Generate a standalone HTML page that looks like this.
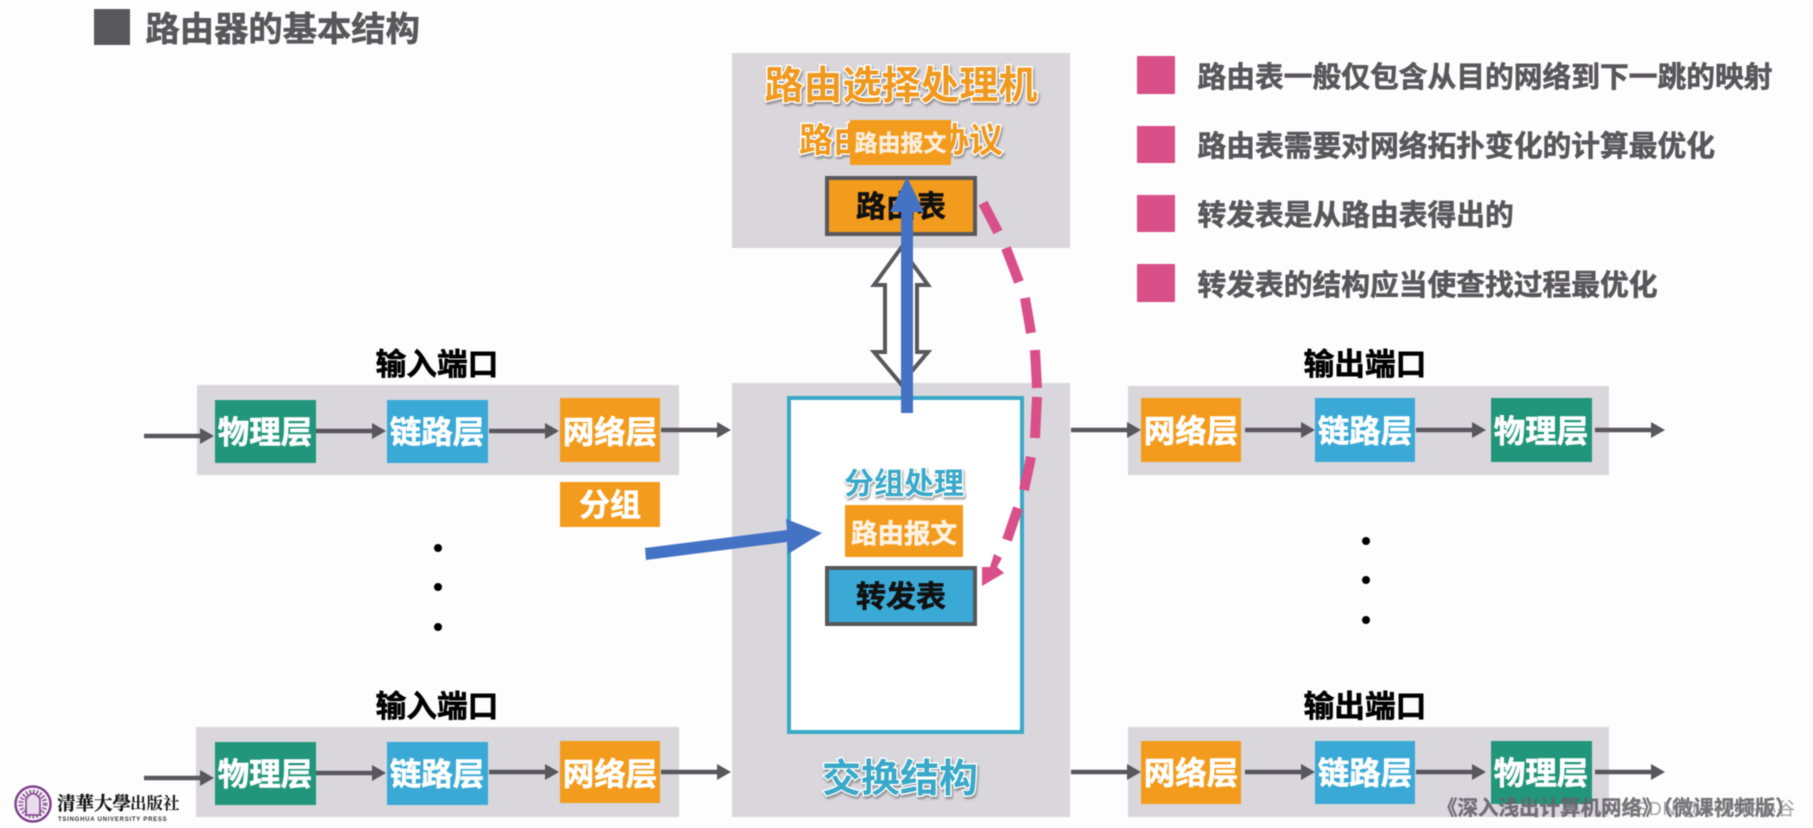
<!DOCTYPE html>
<html lang="zh">
<head>
<meta charset="utf-8">
<title>路由器的基本结构</title>
<style>
html,body{margin:0;padding:0;background:#fefdfe;width:1813px;height:828px;overflow:hidden}
svg{display:block;filter:blur(.6px)}
text{font-family:"Liberation Sans","Noto Sans CJK SC",sans-serif;font-weight:700;text-anchor:middle}
.w{fill:#fff;stroke:#fff;stroke-width:.6px;font-size:31.5px}
.p{fill:#000;stroke:#000;stroke-width:.6px;font-size:30.7px}
.b{fill:#58575c;stroke:#58575c;stroke-width:.6px;font-size:28.75px;text-anchor:start}
.ol{paint-order:stroke;stroke:#fff;stroke-width:3px;stroke-linejoin:round;filter:drop-shadow(1px 2px 1px rgba(70,70,70,.55))}
.a{stroke:#58575c;stroke-width:4.5;fill:none}
.h{fill:#58575c}
.panel{fill:#d9d7dc}
.g{fill:#22967a}.c{fill:#3aa9d6}.o{fill:#f39b1c}
</style>
</head>
<body>
<svg width="1813" height="828" viewBox="0 0 1813 828" xmlns="http://www.w3.org/2000/svg">
<defs>
<g id="ar"><line class="a" x1="0" y1="0" x2="58" y2="0"/><polygon class="h" points="56,-8 70,0 56,8"/></g>
</defs>

<!-- title -->
<rect x="94" y="9" width="36" height="36" fill="#58575c"/>
<text x="145.5" y="41" style="font-size:34.3px;text-anchor:start;fill:#58575c;stroke:#58575c;stroke-width:.6px">路由器的基本结构</text>

<!-- panels -->
<rect class="panel" x="197" y="385" width="482" height="90"/>
<rect class="panel" x="196" y="727" width="483" height="90"/>
<rect class="panel" x="1128" y="386" width="481" height="89"/>
<rect class="panel" x="1128" y="727" width="481" height="90"/>
<rect class="panel" x="732" y="53" width="338" height="195"/>
<rect class="panel" x="732" y="383" width="338" height="434"/>

<!-- port labels -->
<text class="p" x="437" y="375">输入端口</text>
<text class="p" x="437" y="717">输入端口</text>
<text class="p" x="1365" y="375">输出端口</text>
<text class="p" x="1365" y="717">输出端口</text>

<!-- input port 1 -->
<rect class="g" x="215" y="400" width="101" height="63"/>
<rect class="c" x="387" y="400" width="101" height="63"/>
<rect class="o" x="560" y="398" width="100" height="64"/>
<text class="w" x="265" y="443">物理层</text>
<text class="w" x="437" y="443">链路层</text>
<text class="w" x="610" y="443">网络层</text>
<use href="#ar" x="144" y="436"/>
<use href="#ar" x="316" y="431"/>
<use href="#ar" x="489" y="431"/>
<use href="#ar" x="661" y="430"/>

<!-- 分组 -->
<rect class="o" x="560" y="482" width="100" height="45"/>
<text class="w" x="610" y="516" style="font-size:31px">分组</text>

<!-- input port 2 -->
<rect class="g" x="215" y="742" width="101" height="63"/>
<rect class="c" x="387" y="742" width="101" height="63"/>
<rect class="o" x="560" y="741" width="100" height="62"/>
<text class="w" x="265" y="785">物理层</text>
<text class="w" x="437" y="785">链路层</text>
<text class="w" x="610" y="785">网络层</text>
<use href="#ar" x="144" y="778"/>
<use href="#ar" x="316" y="773"/>
<use href="#ar" x="489" y="772"/>
<use href="#ar" x="661" y="772"/>

<!-- output port 1 -->
<rect class="o" x="1141" y="398" width="100" height="64"/>
<rect class="c" x="1315" y="398" width="100" height="64"/>
<rect class="g" x="1491" y="398" width="101" height="64"/>
<text class="w" x="1191" y="442">网络层</text>
<text class="w" x="1365" y="442">链路层</text>
<text class="w" x="1541" y="442">物理层</text>
<use href="#ar" x="1071" y="430"/>
<use href="#ar" x="1245" y="430"/>
<use href="#ar" x="1416" y="430"/>
<use href="#ar" x="1595" y="430"/>

<!-- output port 2 -->
<rect class="o" x="1141" y="741" width="100" height="63"/>
<rect class="c" x="1315" y="741" width="100" height="63"/>
<rect class="g" x="1491" y="741" width="101" height="63"/>
<text class="w" x="1191" y="784">网络层</text>
<text class="w" x="1365" y="784">链路层</text>
<text class="w" x="1541" y="784">物理层</text>
<use href="#ar" x="1071" y="772"/>
<use href="#ar" x="1245" y="772"/>
<use href="#ar" x="1416" y="772"/>
<use href="#ar" x="1595" y="772"/>

<!-- dots -->
<g fill="#000">
<circle cx="438" cy="548" r="4"/><circle cx="438" cy="587" r="4"/><circle cx="438" cy="627" r="4"/>
<circle cx="1366" cy="541" r="4"/><circle cx="1366" cy="580" r="4"/><circle cx="1366" cy="620" r="4"/>
</g>

<!-- routing processor -->
<text class="ol" x="901" y="99" style="font-size:39px;fill:#f0991f">路由选择处理机</text>
<text class="ol" x="901" y="152" style="font-size:34px;fill:#f0991f">路由选择协议</text>
<rect class="o" x="850" y="120" width="101" height="45"/>
<text x="900.5" y="151" style="font-size:23px;fill:#fbeedd;stroke:#fbeedd;stroke-width:.4px">路由报文</text>
<rect x="827" y="178" width="148" height="56" fill="#f39b1c" stroke="#58575c" stroke-width="4"/>
<text x="901" y="217" style="font-size:30px;fill:#111;stroke:#111;stroke-width:.6px">路由表</text>

<!-- switching fabric -->
<rect x="789" y="398" width="233" height="334" fill="#fff" stroke="#3aa9c6" stroke-width="4"/>
<text class="ol" x="904" y="494" style="font-size:30px;fill:#3aa9c9">分组处理</text>
<rect class="o" x="845" y="505" width="118" height="52"/>
<text x="904" y="543" style="font-size:26.5px;fill:#fff3e4;stroke:#fff3e4;stroke-width:.5px">路由报文</text>
<rect x="827" y="568" width="148" height="56" fill="#3aa9d6" stroke="#58575c" stroke-width="4"/>
<text x="901" y="607" style="font-size:30px;fill:#111;stroke:#111;stroke-width:.6px">转发表</text>
<text class="ol" x="900" y="792" style="font-size:39px;fill:#3aa9c9">交换结构</text>

<!-- hollow double arrow -->
<polygon points="901,248 928,285 917,285 917,352 928,352 901,384 874,352 885,352 885,285 874,285" fill="#fff" stroke="#58575c" stroke-width="4" stroke-linejoin="miter"/>

<!-- dashed pink -->
<g fill="none" stroke="#d94f8a" stroke-width="10">
<path d="M983,203 L998,232"/>
<path d="M1006,248 L1019,282"/>
<path d="M1025,298 L1031,333"/>
<path d="M1035,350 L1037,388"/>
<path d="M1037,397 L1035,438"/>
<path d="M1031,457 L1024,490"/>
<path d="M1018,508 L1007,540"/>
</g>
<polygon points="982,586 1004,573 997,567 1002,558 994,554 990,567 982,567" fill="#d94f8a"/>

<!-- blue arrows -->
<rect x="901" y="210" width="12" height="203" fill="#4472c4"/>
<polygon points="907,177 924,212 890,212" fill="#4472c4"/>
<polygon points="645,548 787,530 786,519 822,533 788,554 787,542 646,560" fill="#4472c4"/>

<!-- bullets -->
<g fill="#d94f87">
<rect x="1137" y="56" width="38" height="38"/>
<rect x="1137" y="126" width="38" height="37"/>
<rect x="1137" y="195" width="38" height="37"/>
<rect x="1137" y="264" width="38" height="38"/>
</g>
<text class="b" x="1197.5" y="87">路由表一般仅包含从目的网络到下一跳的映射</text>
<text class="b" x="1197.5" y="156">路由表需要对网络拓扑变化的计算最优化</text>
<text class="b" x="1197.5" y="225">转发表是从路由表得出的</text>
<text class="b" x="1197.5" y="295">转发表的结构应当使查找过程最优化</text>

<!-- logo -->
<g fill="none" stroke="#7d3f8c">
<circle cx="33" cy="804" r="17.5" stroke-width="2.5"/>
<circle cx="33" cy="804" r="12" stroke-width="5" stroke-dasharray="2 1.5" opacity=".75"/>
<path d="M26,815 V799 Q33,788 40,799 V815 Z" stroke-width="1.6" fill="#e9dcec"/>
</g>
<text x="57" y="810" style="font-size:18.5px;text-anchor:start;font-family:'Liberation Serif','Noto Serif CJK SC',serif;fill:#111;stroke:#111;stroke-width:.3px">清華大學</text>
<text x="130" y="809" style="font-size:16.5px;text-anchor:start;font-family:'Liberation Serif','Noto Serif CJK SC',serif;fill:#111">出版社</text>
<text x="58" y="821" style="font-size:6px;text-anchor:start;fill:#333;letter-spacing:.75px">TSINGHUA UNIVERSITY PRESS</text>

<!-- watermark -->
<text x="1437" y="815" style="font-size:20.5px;text-anchor:start;fill:#65646a;stroke:#65646a;stroke-width:.4px;opacity:.9">《深入浅出计算机网络》（微课视频版）</text>
<text x="1622" y="815" textLength="173" lengthAdjust="spacing" style="font-size:18px;text-anchor:start;fill:#8a8a8a;font-weight:400;opacity:.8">CSDN @小小谷小谷</text>
</svg>
</body>
</html>
